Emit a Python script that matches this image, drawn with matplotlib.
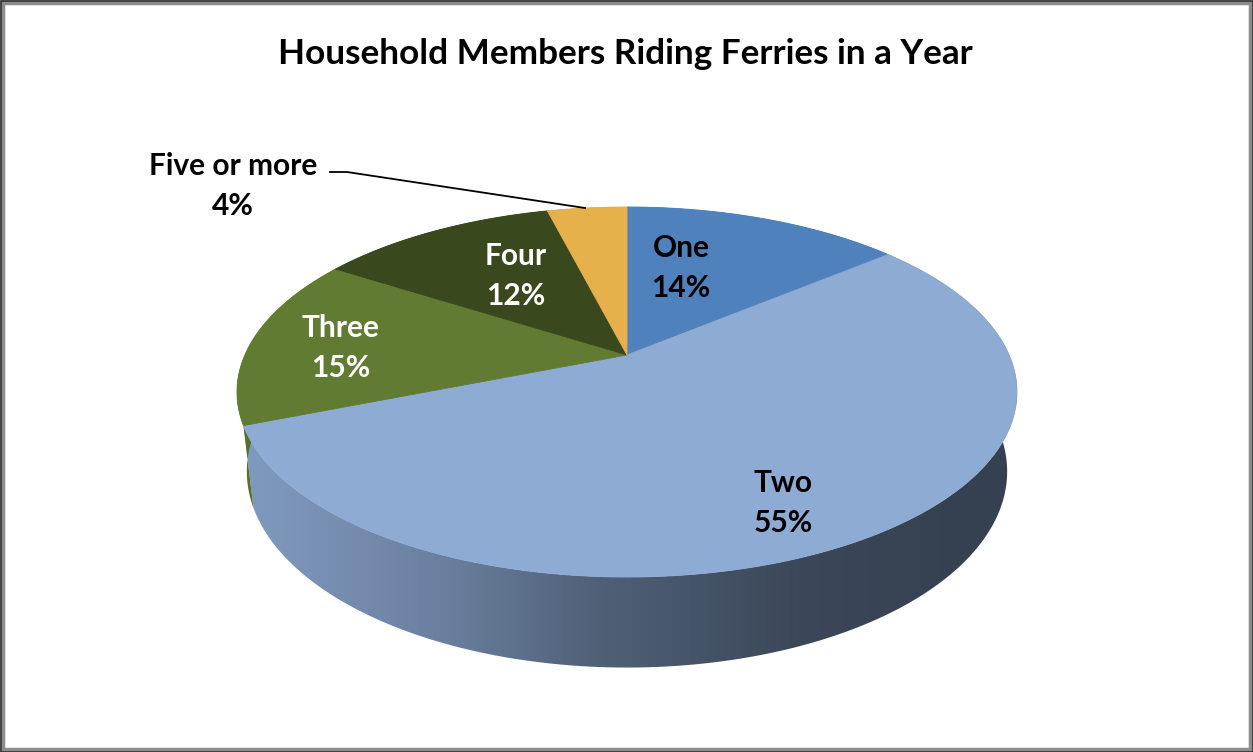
import numpy as np
import matplotlib
matplotlib.use("Agg")
import matplotlib.pyplot as plt
from matplotlib.patches import Polygon, Rectangle
from matplotlib.lines import Line2D
from matplotlib.colors import to_rgb

# --- data -------------------------------------------------------------
categories = ["One", "Two", "Three", "Four", "Five or more"]
shares = [14, 55, 15, 12, 4]
slice_colors = ["#4F81BD", "#8EABD4", "#627B33", "#39481D", "#E6B04B"]
label_colors = ["black", "black", "white", "white", "black"]
title = "Household Members Riding Ferries in a Year"

# --- layout (pixels) --------------------------------------------------
W, H = 1253, 752
CX, CY = 627, 355          # screen position of the pie centre
ELEV = np.radians(27.7)    # camera elevation
DIST = 4.427               # camera distance (pie radius = 1)
FOCAL = 1691.7
THICK = 0.237              # pie thickness

label_pos = {
    "One": (681, 268),
    "Two": (783, 503),
    "Three": (341, 348),
    "Four": (516, 276),
    "Five or more": (233, 186),
}
leader = ([330, 347, 585], [172, 172, 208])

# side wall shading, as a brightness factor across the screen
shade_x = [230, 300, 450, 600, 800, 950, 1030]
shade_f = [0.91, 0.86, 0.74, 0.56, 0.42, 0.38, 0.38]


def project(x, y, z):
    c, s = np.cos(ELEV), np.sin(ELEV)
    depth = DIST - y * c - z * s
    sx = FOCAL * x / depth
    sy = FOCAL * (z * c - y * s) / depth
    return CX + sx, CY - sy


def arc(t0, t1, z, n=200):
    t = np.linspace(t0, t1, n) * 2 * np.pi
    return project(np.sin(t), -np.cos(t), np.full_like(t, z))


fig = plt.figure(figsize=(W / 100, H / 100), dpi=100)
ax = fig.add_axes([0, 0, 1, 1])
ax.axis("off")

fracs = np.array(shares) / sum(shares)
bounds = np.concatenate([[0], np.cumsum(fracs)])

gx = np.linspace(shade_x[0], shade_x[-1], 400)
gf = np.interp(gx, shade_x, shade_f)

# side walls first, top faces drawn over them
for i, col in enumerate(slice_colors):
    tx, ty = arc(bounds[i], bounds[i + 1], 0.0)
    bx, by = arc(bounds[i], bounds[i + 1], -THICK)
    pts = np.column_stack([np.concatenate([tx, bx[::-1]]),
                           np.concatenate([ty, by[::-1]])])
    clip = Polygon(pts, closed=True, facecolor="none", edgecolor="none")
    ax.add_patch(clip)
    img = np.clip(np.array(to_rgb(col))[None, None, :] * gf[None, :, None], 0, 1)
    img = np.repeat(img, 2, axis=0)
    im = ax.imshow(img, extent=(shade_x[0], shade_x[-1], 720, 200),
                   aspect="auto", interpolation="bilinear", zorder=1)
    im.set_clip_path(clip)

for i, col in enumerate(slice_colors):
    tx, ty = arc(bounds[i], bounds[i + 1], 0.0)
    pts = np.column_stack([np.concatenate([[CX], tx]),
                           np.concatenate([[CY], ty])])
    ax.add_patch(Polygon(pts, closed=True, facecolor=col, edgecolor=col,
                         lw=0.6, zorder=2))

for name, pct, tc in zip(categories, shares, label_colors):
    x, y = label_pos[name]
    ax.text(x, y, f"{name}\n{pct}%", ha="center", va="center",
            color=tc, fontsize=21.5, fontweight="bold", family="Lato",
            linespacing=1.55, zorder=5)

ax.add_line(Line2D(leader[0], leader[1], color="black", lw=1.3, zorder=4))

ax.text(625, 54, title, ha="center", va="center", fontsize=25.3,
        fontweight="bold", family="Lato", zorder=5)

# chart frame
ax.add_patch(Rectangle((3, 3), W - 6, H - 6, facecolor="none",
                       edgecolor="#8C8C8C", lw=2.5, zorder=6))
ax.add_patch(Rectangle((0.5, 0.5), W - 1, H - 1, facecolor="none",
                       edgecolor="#222222", lw=1.2, zorder=6))

ax.set_xlim(0, W)
ax.set_ylim(H, 0)
fig.savefig("out.png", dpi=100, facecolor="white")
